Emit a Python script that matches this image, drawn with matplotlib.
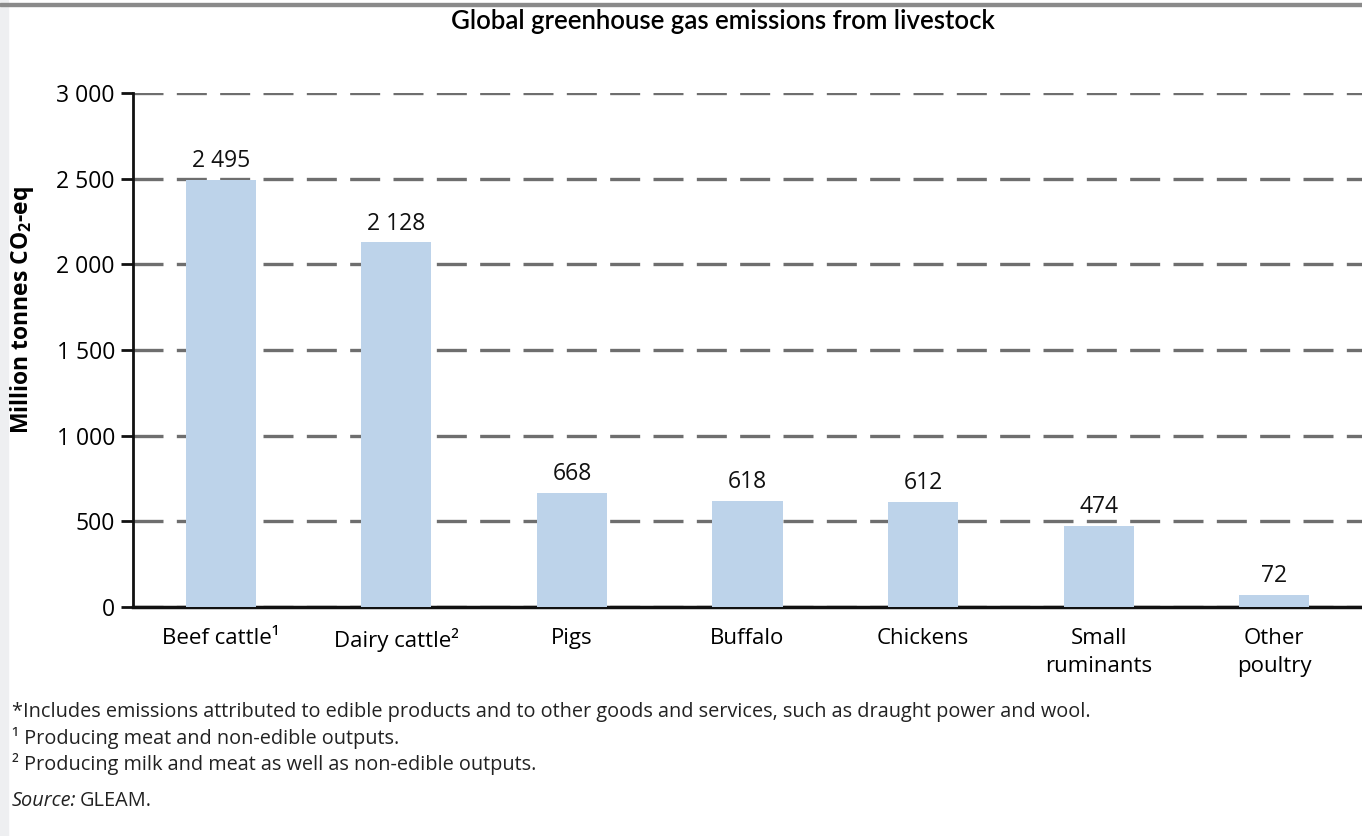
import matplotlib
matplotlib.use("Agg")
import matplotlib.pyplot as plt
from matplotlib.patches import Rectangle
from matplotlib.ticker import FuncFormatter

# data
categories = ["Beef cattle\u00b9", "Dairy cattle\u00b2", "Pigs", "Buffalo",
              "Chickens", "Small\nruminants", "Other\npoultry"]
emissions = [2495, 2128, 668, 618, 612, 474, 72]
yticks = [0, 500, 1000, 1500, 2000, 2500, 3000]

notes = [
    "*Includes emissions attributed to edible products and to other goods and services, such as draught power and wool.",
    "\u00b9 Producing meat and non-edible outputs.",
    "\u00b2 Producing milk and meat as well as non-edible outputs.",
]

plt.rcParams["font.family"] = ["Open Sans", "DejaVu Sans"]
plt.rcParams["mathtext.fontset"] = "custom"
plt.rcParams["mathtext.bf"] = "Open Sans:bold"
plt.rcParams["mathtext.rm"] = "Open Sans"

W, H = 1362, 836
fig = plt.figure(figsize=(W / 100, H / 100), dpi=100)
fig.patch.set_facecolor("white")

# page decorations: grey strip at left, grey rule on top
fig.add_artist(Rectangle((0, 0), 8 / W, 1, transform=fig.transFigure,
                         color="#eeeff1", zorder=0))
fig.add_artist(Rectangle((0, 1 - 6 / H), 1, 3 / H, transform=fig.transFigure,
                         color="#8a8a8a", zorder=1))

ax = fig.add_axes([133 / W, 1 - 607 / H, 1 - 133 / W, (607 - 93) / H])

x = range(len(categories))
bars = ax.bar(x, emissions, width=0.4, color="#bdd3ea", zorder=3)

fmt = lambda v: f"{int(v):,}".replace(",", " ")
for xi, v in zip(x, emissions):
    ax.text(xi, v + 40, fmt(v), ha="center", va="bottom", fontsize=16.5,
            color="#111111")

ax.set_xlim(-0.5, 6.5)
ax.set_ylim(0, 3000)
ax.set_yticks(yticks)
ax.yaxis.set_major_formatter(FuncFormatter(lambda v, p: fmt(v)))
ax.yaxis.grid(True, color="#6e6e6e", linestyle=(0, (9, 4)), linewidth=2.4,
              zorder=1)
ax.set_axisbelow(True)

ax.set_xticks(list(x))
ax.set_xticklabels(categories, fontsize=16, linespacing=1.45)
ax.tick_params(axis="x", length=0, pad=15)
ax.tick_params(axis="y", length=9, width=2, labelsize=16.5, pad=4,
               direction="out", color="#111111")

for s in ["top", "right"]:
    ax.spines[s].set_visible(False)
ax.spines["left"].set_linewidth(2)
ax.spines["bottom"].set_linewidth(2.5)
ax.spines["left"].set_color("#111111")
ax.spines["bottom"].set_color("#111111")

ax.set_ylabel(r"Million tonnes CO$_\mathbf{2}$-eq", fontsize=16.5,
              fontweight="bold")
ax.yaxis.set_label_coords(-111 / (W - 133), 1 - (310 - 93) / (607 - 93))
ax.yaxis.label.set_va("center")

fig.text(0.531, 1 - 22 / H, "Global greenhouse gas emissions from livestock",
         ha="center", va="center", fontsize=18.5, fontweight="semibold",
         family=["Lato", "DejaVu Sans"])

for i, n in enumerate(notes):
    fig.text(12 / W, 1 - (712 + i * 26) / H, n, ha="left", va="center",
             fontsize=14.3, color="#222222")
fig.text(12 / W, 1 - 801 / H, "Source:", ha="left", va="center",
         fontsize=14.3, style="italic", color="#222222")
fig.text(80 / W, 1 - 801 / H, "GLEAM.", ha="left", va="center",
         fontsize=14.3, color="#222222")

fig.savefig("out.png", dpi=100)
